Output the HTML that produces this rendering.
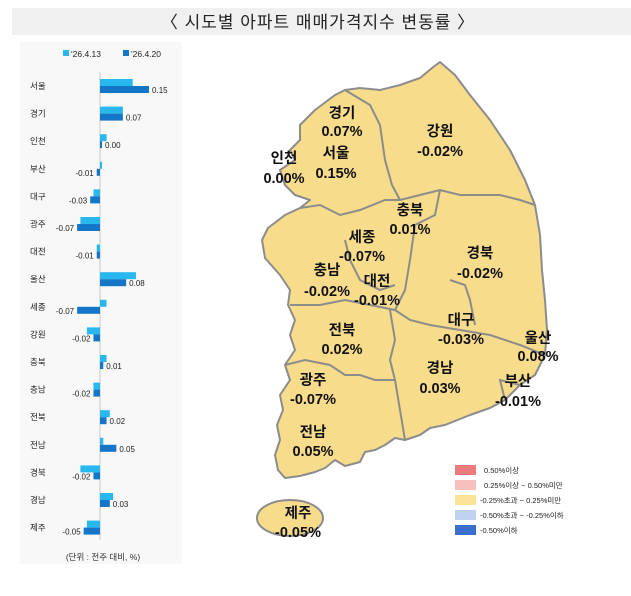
<!DOCTYPE html>
<html><head><meta charset="utf-8"><style>
body{margin:0;width:631px;height:591px;background:#fff;overflow:hidden;font-family:"Liberation Sans","Noto Sans CJK KR",sans-serif}
</style></head><body>
<svg width="631" height="591" viewBox="0 0 631 591" xmlns="http://www.w3.org/2000/svg" font-family="Liberation Sans, Noto Sans CJK KR, sans-serif">
<rect x="12" y="8" width="619" height="27" fill="#f0f0f0"/>
<text x="318" y="28" font-size="17" text-anchor="middle" fill="#222" letter-spacing="1">〈 시도별 아파트 매매가격지수 변동률 〉</text>
<rect x="20" y="42" width="162" height="522" fill="#f8f8f8"/>
<rect x="63" y="50" width="6" height="6" fill="#29b8ee"/><text x="71" y="57" font-size="8.5" fill="#222">'26.4.13</text>
<rect x="123" y="50" width="6" height="6" fill="#1576c8"/><text x="131" y="57" font-size="8.5" fill="#222">'26.4.20</text>
<line x1="100" y1="72" x2="100" y2="540" stroke="#bbb" stroke-width="0.8"/>
<g id="bars" font-size="8" fill="#222"></g>
<text x="103" y="560" font-size="8.5" text-anchor="middle" fill="#333">(단위 : 전주 대비, %)</text>
<g fill="#f7dc8c" stroke="#8c8c8c" stroke-width="2" stroke-linejoin="round">
<path d="M440,62 L455,75 L470,95 L490,120 L510,150 L525,180 L535,205 L540,235 L542,270 L545,300 L547,330 L545,355 L535,375 L520,385 L505,400 L490,408 L470,415 L445,425 L430,428 L420,435 L405,440 L395,438 L385,445 L375,450 L365,452 L360,462 L345,466 L335,460 L325,468 L315,472 L300,476 L285,478 L278,470 L275,455 L280,440 L277,425 L283,410 L280,395 L290,380 L285,365 L295,350 L290,335 L295,320 L288,305 L290,290 L280,275 L265,258 L262,240 L268,228 L285,215 L300,208 L310,200 L295,195 L285,185 L280,170 L295,160 L290,150 L300,140 L300,125 L315,110 L335,95 L345,90 L360,88 L380,90 L400,85 L420,78 L432,68 Z"/>
<ellipse cx="290" cy="518" rx="33" ry="18"/>
</g>
<g fill="none" stroke="#8c8c8c" stroke-width="2">
<path d="M345,90 L370,105 L380,125 L385,160 L392,185 L400,200"/>
<path d="M300,208 L320,205 L340,215 L360,210 L385,200 L400,200 L420,195 L440,190 L460,195 L480,195 L500,195 L520,200 L535,205"/>
<path d="M440,190 L435,215 L415,225 L410,260 L405,290 L395,310"/>
<path d="M290,305 L320,305 L345,300 L370,305 L395,310 L410,320 L430,325 L460,330 L490,335 L520,345 L545,355"/>
<path d="M390,310 L395,340 L390,360 L395,380 L400,410 L405,440"/>
<path d="M285,365 L305,360 L330,365 L345,375 L360,375 L375,380 L395,380"/>
<path d="M505,400 L500,380 L520,385"/>
<path d="M450,280 L465,285 L470,300 L475,325"/>
<path d="M345,240 L350,260 L360,280 L380,290 L395,285"/>
</g>
<g font-size="14.5" font-weight="bold" fill="#111" text-anchor="middle" font-family="Liberation Sans, Noto Sans CJK KR, sans-serif">
<text x="342" y="118">경기</text><text x="342" y="136">0.07%</text>
<text x="440" y="136">강원</text><text x="440" y="156">-0.02%</text>
<text x="284" y="163">인천</text><text x="284" y="183">0.00%</text>
<text x="336" y="158">서울</text><text x="336" y="178">0.15%</text>
<text x="410" y="215">충북</text><text x="410" y="234">0.01%</text>
<text x="362" y="242">세종</text><text x="362" y="261">-0.07%</text>
<text x="480" y="258">경북</text><text x="480" y="278">-0.02%</text>
<text x="327" y="275">충남</text><text x="327" y="296">-0.02%</text>
<text x="377" y="286">대전</text><text x="377" y="305">-0.01%</text>
<text x="461" y="325">대구</text><text x="461" y="344">-0.03%</text>
<text x="538" y="343">울산</text><text x="538" y="361">0.08%</text>
<text x="342" y="335">전북</text><text x="342" y="354">0.02%</text>
<text x="313" y="385">광주</text><text x="313" y="404">-0.07%</text>
<text x="440" y="373">경남</text><text x="440" y="393">0.03%</text>
<text x="518" y="386">부산</text><text x="518" y="406">-0.01%</text>
<text x="313" y="437">전남</text><text x="313" y="456">0.05%</text>
<text x="298" y="518">제주</text><text x="298" y="537">-0.05%</text>
</g>
<g font-size="7.5" fill="#222">
<rect x="455" y="465" width="21" height="10" fill="#ec7b7b"/><text x="484" y="473">0.50%이상</text>
<rect x="455" y="480" width="21" height="10" fill="#f7c0bf"/><text x="484" y="488">0.25%이상 ~ 0.50%미만</text>
<rect x="455" y="495" width="21" height="10" fill="#f9e497"/><text x="480" y="503">-0.25%초과 ~ 0.25%미만</text>
<rect x="455" y="510" width="21" height="10" fill="#bfd2ee"/><text x="480" y="518">-0.50%초과 ~ -0.25%이하</text>
<rect x="455" y="525" width="21" height="10" fill="#3b6fcc"/><text x="480" y="533">-0.50%이하</text>
</g>
</svg>
<script>
var d=[["서울",.10,.15],["경기",.07,.07],["인천",.02,0],["부산",0,-.01],["대구",-.02,-.03],["광주",-.06,-.07],["대전",-.01,-.01],["울산",.11,.08],["세종",.02,-.07],["강원",-.04,-.02],["충북",.02,.01],["충남",-.02,-.02],["전북",.03,.02],["전남",.01,.05],["경북",-.06,-.02],["경남",.04,.03],["제주",-.04,-.05]];
var g=document.getElementById('bars'),s=327,h='';
d.forEach(function(r,i){var y=86+i*27.6;
h+='<text x="30" y="'+(y+3)+'" font-size="8.5">'+r[0]+'</text>';
function b(v,yy,c){var w=Math.max(Math.abs(v)*s,2);var x=v>=0?100:100-w;h+='<rect x="'+x+'" y="'+yy+'" width="'+w+'" height="7" fill="'+c+'"/>';}
b(r[1],y-7,'#29b8ee');b(r[2],y,'#1576c8');
var v=r[2],t=(v<0?'-':'')+Math.abs(v).toFixed(2);
var w=Math.max(Math.abs(v)*s,2);
if(v>=0)h+='<text x="'+(100+w+3)+'" y="'+(y+7)+'">'+t+'</text>';
else h+='<text x="'+(100-w-3)+'" y="'+(y+7)+'" text-anchor="end">'+t+'</text>';
});
g.innerHTML=h;
</script>
</body></html>
